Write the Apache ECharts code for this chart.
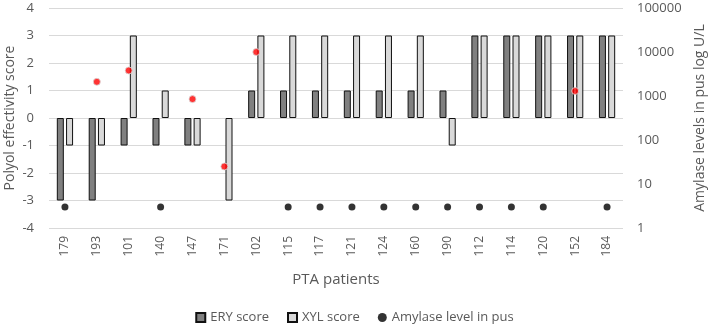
<!DOCTYPE html>
<html>
<head>
<meta charset="utf-8">
<script src="https://cdn.jsdelivr.net/npm/echarts@6/dist/echarts.min.js"></script>
<style>
  html, body { margin: 0; padding: 0; background: #fff; }
  #chart { width: 709px; height: 330px; }
</style>
</head>
<body>
<div id="chart"></div>
<script>
// PTA patients
const patients = ['179', '193', '101', '140', '147', '171', '102', '115', '117', '121', '124', '160', '190', '112', '114', '120', '152', '184']
const eryScore = [-3, -3, -1, -1, -1, 0, 1, 1, 1, 1, 1, 1, 1, 3, 3, 3, 3, 3]
const xylScore = [-1, -1, 3, 1, -1, -3, 3, 3, 3, 3, 3, 3, -1, 3, 3, 3, 3, 3]
// amylase in pus, U/L (3 = detection floor)
const amylase = [3, 2100, 3800, 3, 850, 25, 10000, 3, 3, 3, 3, 3, 3, 3, 3, 3, 1300, 3]
const detectionFloor = 3

const textColor = '#595959'
const font = 'Open Sans'

const chart = echarts.init(document.getElementById('chart'))

// zero scores draw nothing (no outline)
const barData = arr => arr.map(v => (v === 0 ? { value: 0, itemStyle: { borderWidth: 0 } } : v))

const option = {
  textStyle: { fontFamily: font, color: textColor },
  grid: { left: 49, right: 86, top: 8, bottom: 102, containLabel: false, outerBoundsMode: 'none' },
  legend: {
    bottom: 1,
    left: 'center',
    itemWidth: 9,
    itemHeight: 9,
    itemGap: 18,
    textStyle: { fontFamily: font, fontSize: 13, color: textColor },
    data: [
      { name: 'ERY score', icon: 'rect' },
      { name: 'XYL score', icon: 'rect' },
      { name: 'Amylase level in pus', icon: 'circle', itemStyle: { color: '#000', borderWidth: 0 } }
    ]
  },
  xAxis: {
    type: 'category',
    data: patients,
    name: 'PTA patients',
    nameLocation: 'middle',
    nameGap: 44,
    nameMoveOverlap: false,
    nameTextStyle: { fontSize: 15, color: textColor },
    axisLine: { show: false, onZero: false },
    axisTick: { show: false },
    axisLabel: { rotate: 90, fontSize: 12, color: textColor, margin: 8 }
  },
  yAxis: [
    {
      type: 'value',
      min: -4,
      max: 4,
      interval: 1,
      name: 'Polyol effectivity score',
      nameLocation: 'middle',
      nameGap: 32,
      nameMoveOverlap: false,
      nameRotate: 90,
      nameTextStyle: { fontSize: 14, color: textColor },
      axisLine: { show: false },
      axisTick: { show: false },
      axisLabel: { fontSize: 13, color: textColor, margin: 15 },
      splitLine: { lineStyle: { color: '#d9d9d9', width: 1 } }
    },
    {
      type: 'log',
      logBase: 10,
      min: 1,
      max: 100000,
      name: 'Amylase levels in pus log U/L',
      nameLocation: 'middle',
      nameGap: 70,
      nameMoveOverlap: false,
      nameRotate: 90,
      nameTextStyle: { fontSize: 14, color: textColor },
      axisLine: { show: false },
      axisTick: { show: false },
      axisLabel: { fontSize: 13, color: textColor, margin: 14, formatter: v => String(Math.round(v)) },
      splitLine: { show: false }
    }
  ],
  series: [
    {
      name: 'ERY score',
      type: 'bar',
      data: barData(eryScore),
      barWidth: 7,
      barGap: '32%',
      itemStyle: { color: '#808080', borderColor: '#111', borderWidth: 1 }
    },
    {
      name: 'XYL score',
      type: 'bar',
      data: barData(xylScore),
      barWidth: 7,
      itemStyle: { color: '#d9d9d9', borderColor: '#111', borderWidth: 1 }
    },
    {
      name: 'Amylase level in pus',
      type: 'scatter',
      yAxisIndex: 1,
      symbolSize: 7,
      data: amylase.map(v => ({
        value: v,
        itemStyle: v > detectionFloor
          ? { color: '#ff0000', borderColor: '#d9d9d9', borderWidth: 1 }
          : { color: '#000000' }
      })),
      itemStyle: { color: '#000000' },
      z: 5
    }
  ]
}

chart.setOption(option)
window.addEventListener('resize', () => chart.resize())
</script>
</body>
</html>
